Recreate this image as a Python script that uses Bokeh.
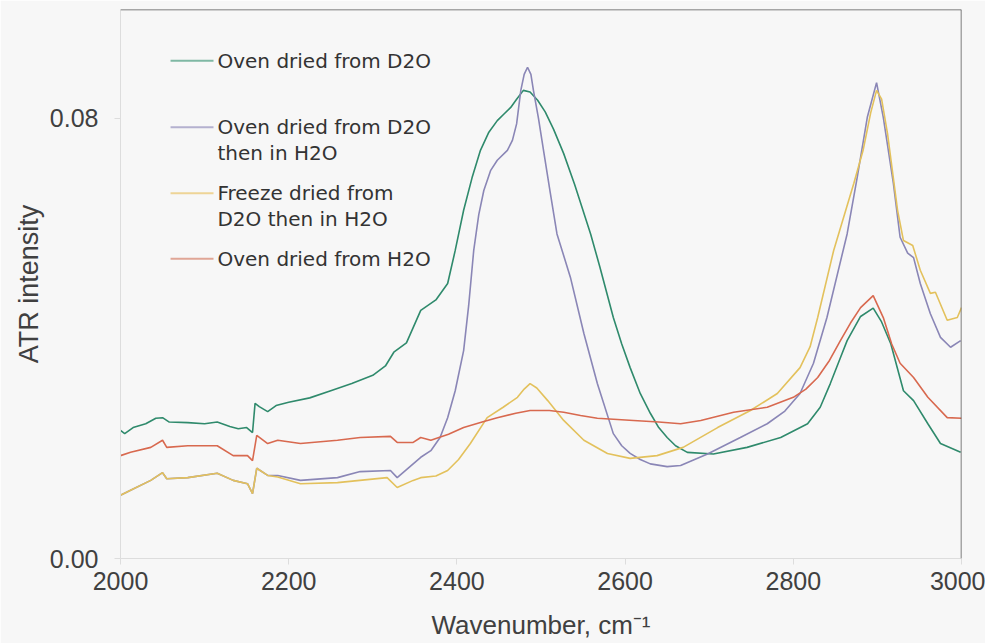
from bokeh.plotting import figure
from bokeh.models import Range1d, FixedTicker, Span, CustomJSTickFormatter
from bokeh.core.properties import value
from bokeh.embed import file_html
from bokeh.resources import INLINE

# Oven dried from D2O (green)
green_x = [2000, 2005, 2015, 2030, 2042, 2050, 2058, 2080, 2100, 2115, 2130, 2140, 2150, 2157, 2160, 2165, 2175, 2185, 2200,
           2225, 2250, 2275, 2300, 2315, 2325, 2340, 2357, 2375, 2389, 2398, 2408, 2418, 2428, 2438, 2448, 2456, 2464, 2471,
           2479, 2487, 2496, 2505, 2515, 2527, 2540, 2559, 2570, 2586, 2596, 2606, 2618, 2630, 2640, 2650, 2660, 2674, 2705,
           2745, 2785, 2817, 2832, 2844, 2856, 2864, 2880, 2895, 2905, 2916, 2931, 2943, 2960, 2975, 2999]
green_y = [0.0233, 0.0227, 0.0238, 0.0245, 0.0255, 0.0256, 0.0248, 0.0247, 0.0245, 0.0248, 0.0240, 0.0236, 0.0238, 0.0229, 0.0282,
           0.0276, 0.0267, 0.0278, 0.0284, 0.0292, 0.0305, 0.0318, 0.0333, 0.0350, 0.0375, 0.0392, 0.0451, 0.0470, 0.0500, 0.0560,
           0.0633, 0.0692, 0.0742, 0.0775, 0.0796, 0.0808, 0.0820, 0.0835, 0.0851, 0.0848, 0.0833, 0.0812, 0.0780, 0.0736, 0.0680,
           0.0590, 0.0530, 0.0438, 0.0390, 0.0347, 0.0300, 0.0264, 0.0238, 0.0220, 0.0205, 0.0193, 0.0190, 0.0202, 0.0220, 0.0245,
           0.0275, 0.0318, 0.0365, 0.0396, 0.0440, 0.0455, 0.0430, 0.0390, 0.0305, 0.0287, 0.0245, 0.0209, 0.0193]

# Oven dried from D2O then in H2O (purple)
purple_x = [2000, 2012, 2036, 2050, 2055, 2080, 2115, 2134, 2151, 2157, 2162, 2175, 2187, 2214, 2258, 2285, 2321, 2329, 2357,
            2369, 2380, 2389, 2398, 2408, 2414, 2420, 2426, 2432, 2440, 2448, 2460, 2466, 2471, 2476, 2480, 2484, 2488, 2491,
            2497, 2503, 2511, 2519, 2535, 2551, 2567, 2586, 2596, 2606, 2618, 2630, 2650, 2666, 2698, 2737, 2769, 2790, 2808,
            2824, 2840, 2864, 2876, 2888, 2899, 2907, 2919, 2927, 2936, 2943, 2951, 2963, 2975, 2987, 2999]
purple_y = [0.0115, 0.0124, 0.0142, 0.0156, 0.0145, 0.0147, 0.0155, 0.0142, 0.0136, 0.0118, 0.0164, 0.0151, 0.0151, 0.0142,
            0.0147, 0.0158, 0.0160, 0.0147, 0.0184, 0.0196, 0.0220, 0.0256, 0.0305, 0.0378, 0.0460, 0.0560, 0.0625, 0.0669,
            0.0705, 0.0724, 0.0742, 0.0760, 0.0790, 0.0851, 0.0880, 0.0893, 0.0880, 0.0851, 0.0800, 0.0742, 0.0665, 0.0590,
            0.0511, 0.0409, 0.0318, 0.0227, 0.0205, 0.0191, 0.0180, 0.0172, 0.0167, 0.0169, 0.0190, 0.0220, 0.0245, 0.0268,
            0.0300, 0.0355, 0.0438, 0.0590, 0.0693, 0.0802, 0.0865, 0.0802, 0.0682, 0.0584, 0.0555, 0.0547, 0.0500, 0.0445,
            0.0402, 0.0384, 0.0396]

# Freeze dried from D2O then in H2O (yellow)
yellow_x = [2000, 2012, 2036, 2050, 2055, 2080, 2115, 2134, 2151, 2157, 2162, 2175, 2187, 2214, 2258, 2317, 2329, 2348, 2357,
            2375, 2389, 2402, 2416, 2436, 2455, 2472, 2480, 2487, 2495, 2508, 2527, 2551, 2579, 2606, 2638, 2669, 2710, 2749,
            2781, 2808, 2820, 2829, 2848, 2872, 2883, 2892, 2899, 2905, 2912, 2924, 2931, 2942, 2951, 2963, 2969, 2983, 2995, 3000]
yellow_y = [0.0115, 0.0124, 0.0142, 0.0156, 0.0145, 0.0147, 0.0155, 0.0142, 0.0136, 0.0118, 0.0164, 0.0151, 0.0148, 0.0136,
            0.0138, 0.0147, 0.0129, 0.0142, 0.0147, 0.0150, 0.0160, 0.0180, 0.0209, 0.0256, 0.0275, 0.0293, 0.0308, 0.0318,
            0.0310, 0.0287, 0.0251, 0.0215, 0.0191, 0.0182, 0.0187, 0.0202, 0.0238, 0.0269, 0.0300, 0.0347, 0.0385, 0.0438,
            0.0560, 0.0682, 0.0742, 0.0810, 0.0851, 0.0835, 0.0773, 0.0633, 0.0578, 0.0569, 0.0524, 0.0482, 0.0484, 0.0433,
            0.0438, 0.0456]

# Oven dried from H2O (red)
red_x = [2000, 2012, 2036, 2050, 2055, 2080, 2115, 2134, 2151, 2157, 2162, 2175, 2187, 2214, 2258, 2285, 2321, 2329, 2348,
         2357, 2369, 2390, 2408, 2430, 2448, 2470, 2487, 2510, 2527, 2547, 2567, 2610, 2640, 2666, 2690, 2729, 2769, 2800,
         2815, 2829, 2843, 2856, 2868, 2880, 2895, 2907, 2917, 2927, 2943, 2960, 2983, 3000]
red_y = [0.0187, 0.0193, 0.0202, 0.0215, 0.0202, 0.0205, 0.0205, 0.0187, 0.0187, 0.0178, 0.0224, 0.0209, 0.0215, 0.0209,
         0.0215, 0.0220, 0.0222, 0.0211, 0.0211, 0.0220, 0.0215, 0.0226, 0.0238, 0.0248, 0.0256, 0.0264, 0.0269, 0.0269,
         0.0266, 0.0260, 0.0255, 0.0251, 0.0248, 0.0245, 0.0251, 0.0266, 0.0275, 0.0293, 0.0308, 0.0329, 0.0360, 0.0396,
         0.0428, 0.0456, 0.0478, 0.0438, 0.0390, 0.0355, 0.0329, 0.0293, 0.0256, 0.0255]

x_ticks = [2000, 2200, 2400, 2600, 2800, 3000]
y_ticks = [0.0, 0.08]
Y_MAX = 0.0998

series = [
    (green_x, green_y, "#2f8a6c", "#7fb8a4", ["Oven dried from D2O"]),
    (purple_x, purple_y, "#8a86b6", "#b4b1cf", ["Oven dried from D2O", "then in H2O"]),
    (yellow_x, yellow_y, "#e3c15c", "#eed496", ["Freeze dried from", "D2O then in H2O"]),
    (red_x, red_y, "#d8694f", "#e0a696", ["Oven dried from H2O"]),
]

BG = "#f7f7f7"
p = figure(width=985, height=643, output_backend="svg", toolbar_location=None,
           x_range=Range1d(2000, 3000), y_range=Range1d(0, Y_MAX),
           min_border_left=120, min_border_right=24, min_border_top=9, min_border_bottom=85,
           background_fill_color=BG, border_fill_color=BG)
p.outline_line_color = None
p.grid.visible = False

for xs, ys, col, _, _ in series:
    p.line(xs, ys, line_color=col, line_width=1.6)

# top and right frame edges (dark), left/bottom are the light axis lines
p.add_layout(Span(location=Y_MAX, dimension="width", line_color="#555555", line_width=1.5))
p.add_layout(Span(location=3000, dimension="height", line_color="#555555", line_width=1.5))

# legend (manual, to match layout)
FONT = "DejaVu Sans"
leg_x0, leg_x1, leg_tx = 2059.5, 2110.6, 2115.3
row_y = [0.0905, 0.0784, 0.0664, 0.0545]
line_gap = 0.0046
for (xs, ys, col, lcol, labels), yy in zip(series, row_y):
    p.line([leg_x0, leg_x1], [yy, yy], line_color=lcol, line_width=2)
    for k, t in enumerate(labels):
        p.text(x=[leg_tx], y=[yy - k * line_gap], text=[t], text_font=value(FONT),
               text_font_size="20px", text_color="#333333", text_baseline="middle", text_align="left")

p.xaxis.ticker = FixedTicker(ticks=x_ticks)
p.yaxis.ticker = FixedTicker(ticks=y_ticks)
p.yaxis.formatter = CustomJSTickFormatter(code="return tick.toFixed(2);")
for ax in (p.xaxis[0], p.yaxis[0]):
    ax.axis_line_color = "#dddddd"
    ax.major_tick_line_color = "#dddddd"
    ax.minor_tick_line_color = None
    ax.major_label_text_font = "Liberation Sans"
    ax.major_label_text_font_size = "25px"
    ax.major_label_text_color = "#404040"
    ax.axis_label_text_font = "Liberation Sans"
    ax.axis_label_text_font_style = "normal"
    ax.axis_label_text_color = "#404040"
p.xaxis.axis_label_text_font_size = "26px"
p.yaxis.axis_label_text_font_size = "27px"
p.xaxis.major_tick_out = 6
p.xaxis.major_tick_in = 0
p.yaxis.major_tick_out = 6
p.yaxis.major_tick_in = 0
p.xaxis.major_label_standoff = 7
p.yaxis.major_label_standoff = 16
p.xaxis.axis_label = "Wavenumber, cm\u207b\u00b9"
p.yaxis.axis_label = "ATR intensity"
p.xaxis.axis_label_standoff = 17
p.yaxis.axis_label_standoff = 3

open("out.html", "w").write(file_html(p, INLINE))
